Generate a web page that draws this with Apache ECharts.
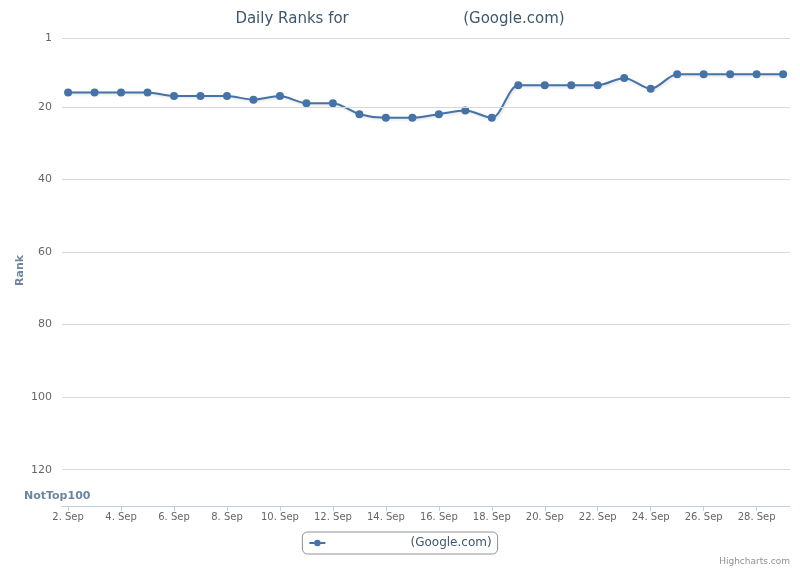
<!DOCTYPE html>
<html lang="en">
<head>
    <meta charset="UTF-8"/>
    <title>Daily Ranks</title>
    <script src="https://cdn.jsdelivr.net/npm/echarts@6/dist/echarts.min.js"></script>
    <style>
        html, body { margin:0; padding:0; background:#fff; }
        #main { width:800px; height:569px; }
    </style>
</head>
<body>

<div id="main"></div>
<script type="text/javascript">

    // day of September for each point
    var days = [2, 3, 4, 5, 6, 7, 8, 9, 10, 11, 12, 13, 14, 15,
                16, 17, 18, 19, 20, 21, 22, 23, 24, 25, 26, 27, 28, 29];
    var ranks = [16, 16, 16, 16, 17, 17, 17, 18, 17, 19, 19, 22, 23, 23,
                 22, 21, 23, 14, 14, 14, 14, 12, 15, 11, 11, 11, 11, 11];
    var dayTicks = [2, 4, 6, 8, 10, 12, 14, 16, 18, 20, 22, 24, 26, 28];
    var rankTicks = [1, 20, 40, 60, 80, 100, 120];

    var font = '"DejaVu Sans", Verdana, sans-serif';
    var siteName = '                     (Google.com)';
    var seriesData = [];
    for (var i = 0; i < days.length; i++) {
        seriesData.push([days[i], ranks[i]]);
    }

    var myChart = echarts.init(document.getElementById('main'));

    var option = {
        animation: false,
        title: {
            text: 'Daily Ranks for                        (Google.com)',
            left: 'center',
            top: 7,
            textStyle: { fontFamily: font, fontSize: 15, fontWeight: 'normal', color: '#3E576F' }
        },
        grid: { left: 62, right: 10, top: 38, bottom: 63 },
        legend: {
            bottom: 15,
            left: 'center',
            data: [siteName],
            itemWidth: 16,
            itemHeight: 8,
            padding: [5, 6, 5, 6],
            borderColor: '#909090',
            borderWidth: 1,
            borderRadius: 5,
            textStyle: { fontFamily: font, fontSize: 12, color: '#3E576F' }
        },
        xAxis: {
            type: 'value',
            min: 1.77,
            max: 29.26,
            splitLine: { show: false },
            axisLine: { show: true, lineStyle: { color: '#C0D0E0' } },
            axisTick: { show: true, customValues: dayTicks, length: 5, lineStyle: { color: '#C0D0E0' } },
            axisLabel: {
                customValues: dayTicks,
                formatter: function (v) { return v + '. Sep'; },
                fontFamily: font, fontSize: 10, color: '#666', margin: 6
            }
        },
        yAxis: {
            type: 'value',
            inverse: true,
            min: 1,
            max: 130,
            axisLine: { show: false },
            axisTick: { show: false },
            splitLine: { show: false },
            axisLabel: {
                customValues: rankTicks,
                fontFamily: font, fontSize: 11, color: '#666', margin: 10
            }
        },
        graphic: [
            {
                type: 'text',
                x: 15,
                y: 286,
                rotation: Math.PI / 2,
                style: { text: 'Rank', font: 'bold 11px ' + font, fill: '#6D869F' }
            },
            {
                type: 'text',
                left: 24,
                top: 491,
                style: { text: 'NotTop100', font: 'bold 11px ' + font, fill: '#6D869F' }
            },
            {
                type: 'text',
                right: 10,
                bottom: 3,
                style: { text: 'Highcharts.com', font: '9px ' + font, fill: '#909090' }
            }
        ],
        series: [
            {
                name: siteName,
                type: 'line',
                smooth: 0.3,
                data: seriesData,
                symbol: 'circle',
                symbolSize: 8,
                itemStyle: { color: '#4572A7' },
                lineStyle: {
                    color: '#4572A7', width: 2,
                    shadowColor: 'rgba(0,0,0,0.15)', shadowBlur: 3, shadowOffsetX: 1, shadowOffsetY: 1
                },
                markLine: {
                    silent: true,
                    symbol: 'none',
                    label: { show: false },
                    lineStyle: { color: '#D8D8D8', type: 'solid', width: 1 },
                    data: rankTicks.map(function (r) { return { yAxis: r }; })
                },
                z: 3
            }
        ]
    };

    myChart.setOption(option);
</script>

</body>
</html>
